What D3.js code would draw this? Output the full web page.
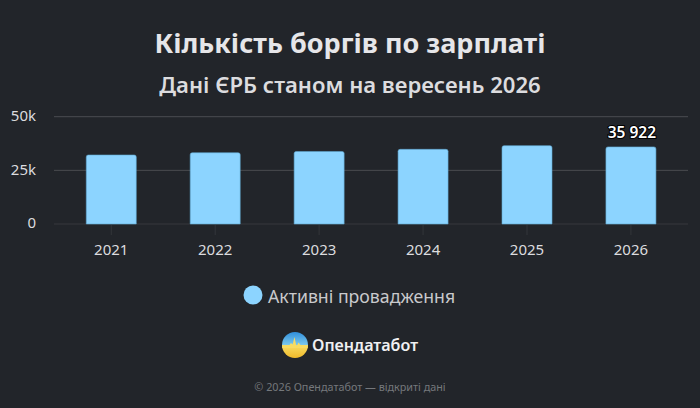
<!DOCTYPE html>
<html><head><meta charset="utf-8">
<script src="https://cdn.jsdelivr.net/npm/d3@7"></script>
<style>html,body{margin:0;padding:0;background:#22252a}svg{display:block}text{font-family:"Noto Sans",sans-serif}</style>
</head><body><svg id="c" width="700" height="408"></svg>
<script>
const categories=["2021","2022","2023","2024","2025","2026"];
const values=[32150,33200,33800,34800,36500,35922];
const yTicks=[0,25000,50000];
const yTickLabels=["0","25k","50k"];
const seriesName="Активні провадження";
const titleText="Кількість боргів по зарплаті";
const subtitleText="Дані ЄРБ станом на вересень 2026";
const brandText="Опендатабот";
const footerText="© 2026 Опендатабот — відкриті дані";

const svg=d3.select("#c");
svg.append("rect").attr("width",700).attr("height",408).attr("fill","#22252a");
const x=d3.scaleBand().domain(categories).range([59.3,682.9]);
const y=d3.scaleLinear().domain([0,50000]).range([224,116.7]);
const barW=50;

svg.append("text").attr("x",350).attr("y",53).attr("text-anchor","middle").attr("font-size",27).attr("font-weight",700).attr("fill","#e6e6e9").text(titleText);
svg.append("text").attr("x",350).attr("y",93).attr("text-anchor","middle").attr("font-size",22.1).attr("font-weight",600).attr("fill","#dcdcdf").text(subtitleText);

const yAxis=d3.axisLeft(y).tickValues(yTicks).tickFormat((d,i)=>yTickLabels[i]).tickSize(0).tickPadding(0);
const gy=svg.append("g").attr("transform","translate(36,-1)").call(yAxis);
gy.select(".domain").remove();
gy.selectAll("text").attr("font-size",15).attr("fill","#dcdcdf").attr("font-family",'"Noto Sans",sans-serif');

svg.append("g").selectAll("line").data(yTicks).join("line")
 .attr("x1",54).attr("x2",688).attr("y1",d=>y(d)).attr("y2",d=>y(d))
 .attr("stroke",d=>d===0?"#36393d":"#4a4c50").attr("stroke-width",1);

const xAxis=d3.axisBottom(x).tickSize(10).tickPadding(9);
const gx=svg.append("g").attr("transform","translate(0,225)").call(xAxis);
gx.select(".domain").remove();
gx.selectAll("line").attr("stroke","#33363a");
gx.selectAll("text").attr("font-size",15).attr("fill","#dcdcdf").attr("font-family",'"Noto Sans",sans-serif');

svg.append("g").selectAll("path").data(categories).join("path")
 .attr("d",(c,i)=>{const l=x(c)+x.bandwidth()/2-barW/2,t=y(values[i]),b=y(0),r=2;
   return `M${l},${b}V${t+r}Q${l},${t} ${l+r},${t}H${l+barW-r}Q${l+barW},${t} ${l+barW},${t+r}V${b}Z`;})
 .attr("fill","#8cd4ff").attr("stroke","#5fa8d0").attr("stroke-width",.6);

const last=categories.length-1;
svg.append("text").attr("x",x(categories[last])+x.bandwidth()/2+1).attr("y",y(values[last])-9)
 .attr("text-anchor","middle").attr("font-size",15.5).attr("font-weight",600).attr("fill","#fff")
 .attr("stroke","#000").attr("stroke-width",2).attr("paint-order","stroke").text(d3.format(",")(values[last]).replace(",", " "));

svg.append("circle").attr("cx",253).attr("cy",295).attr("r",9.5).attr("fill","#8cd4ff");
svg.append("text").attr("x",268).attr("y",303).attr("font-size",17.7).attr("fill","#c9c9cc").text(seriesName);

const defs=svg.append("defs");
const g=defs.append("linearGradient").attr("id","lg").attr("x1",0).attr("x2",0).attr("y1",0).attr("y2",1);
[[0,"#2f8fdc"],[.5,"#7cc8ec"],[.52,"#f8dc62"],[1,"#f0b92a"]].forEach(s=>g.append("stop").attr("offset",s[0]).attr("stop-color",s[1]));
svg.append("circle").attr("cx",295).attr("cy",345).attr("r",13).attr("fill","url(#lg)");
svg.append("path").attr("d","M282.2,345 L289.5,345 L291,343 L292.6,344.5 L294.5,337 L296.5,347 L298.5,342.5 L300.5,345 L307.8,345 L307.8,348 L282.2,348Z").attr("fill","#f8dc62");
svg.append("text").attr("x",312).attr("y",351).attr("font-size",16.1).attr("font-weight",600).attr("fill","#f0f0f2").text(brandText);

svg.append("text").attr("x",350).attr("y",391).attr("text-anchor","middle").attr("font-size",10.8).attr("fill","#75787c").text(footerText);
</script></body></html>
